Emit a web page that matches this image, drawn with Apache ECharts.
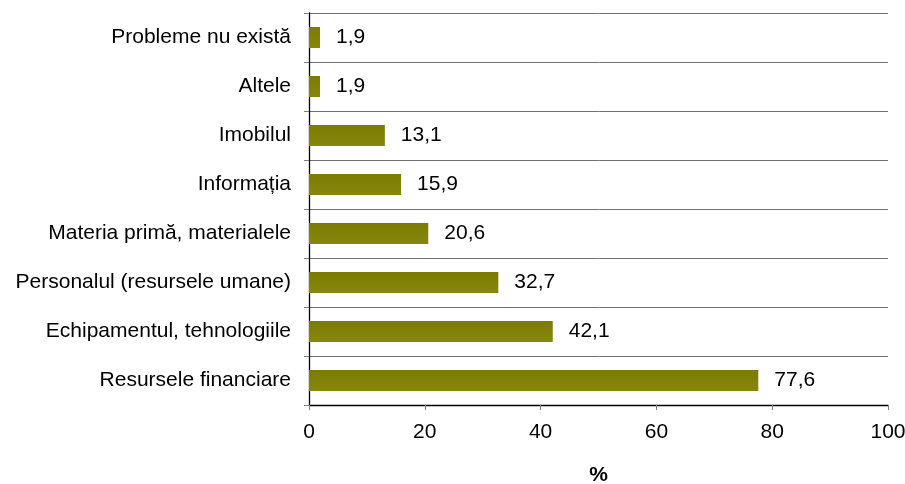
<!DOCTYPE html>
<html>
<head>
<meta charset="utf-8">
<script src="https://cdn.jsdelivr.net/npm/echarts@6/dist/echarts.min.js"></script>
<style>
  html, body { margin: 0; padding: 0; background: #fff; }
  #chart { width: 905px; height: 484px; }
</style>
</head>
<body>
<div id="chart"></div>
<script>
// Categories, listed top to bottom
const categories = [
  'Probleme nu există',
  'Altele',
  'Imobilul',
  'Informația',
  'Materia primă, materialele',
  'Personalul (resursele umane)',
  'Echipamentul, tehnologiile',
  'Resursele financiare'
];
// Share of respondents, %
const values = [1.9, 1.9, 13.1, 15.9, 20.6, 32.7, 42.1, 77.6];
const xTicks = [0, 20, 40, 60, 80, 100];
const axisTitle = '%';

const fontFamily = 'Liberation Sans, Arial, sans-serif';
const chart = echarts.init(document.getElementById('chart'), null, { renderer: 'canvas' });

chart.setOption({
  animation: false,
  backgroundColor: '#ffffff',
  grid: {
    left: 309, right: 17, top: 13, bottom: 79,
    containLabel: false,
    outerBoundsMode: 'none'
  },
  xAxis: {
    type: 'value',
    min: xTicks[0],
    max: xTicks[xTicks.length - 1],
    interval: xTicks[1] - xTicks[0],
    name: axisTitle,
    nameLocation: 'middle',
    nameGap: 60,
    nameTextStyle: { fontFamily, fontSize: 21, fontWeight: 'bold', color: '#000' },
    axisLine: { show: true, lineStyle: { color: '#000', width: 1.3 } },
    axisTick: { show: true, length: 5, lineStyle: { color: '#808080' } },
    axisLabel: { fontFamily, fontSize: 21, color: '#000', margin: 17 },
    splitLine: { show: false }
  },
  yAxis: {
    type: 'category',
    data: categories,
    inverse: true,
    axisLine: { show: true, lineStyle: { color: '#000', width: 1.3 } },
    axisTick: { show: true, length: 5, lineStyle: { color: '#808080' } },
    axisLabel: { fontFamily, fontSize: 21, color: '#000', margin: 18 },
    splitLine: { show: true, lineStyle: { color: '#707070', width: 1 } }
  },
  series: [{
    type: 'bar',
    data: values,
    barWidth: 21,
    itemStyle: {
      color: new echarts.graphic.LinearGradient(0, 0, 0, 1, [
        { offset: 0, color: '#7b7b00' },
        { offset: 1, color: '#878710' }
      ])
    },
    label: {
      show: true,
      position: 'right',
      distance: 16,
      fontFamily,
      fontSize: 21,
      color: '#000',
      formatter: p => String(p.value).replace('.', ',')
    }
  }]
});
</script>
</body>
</html>
